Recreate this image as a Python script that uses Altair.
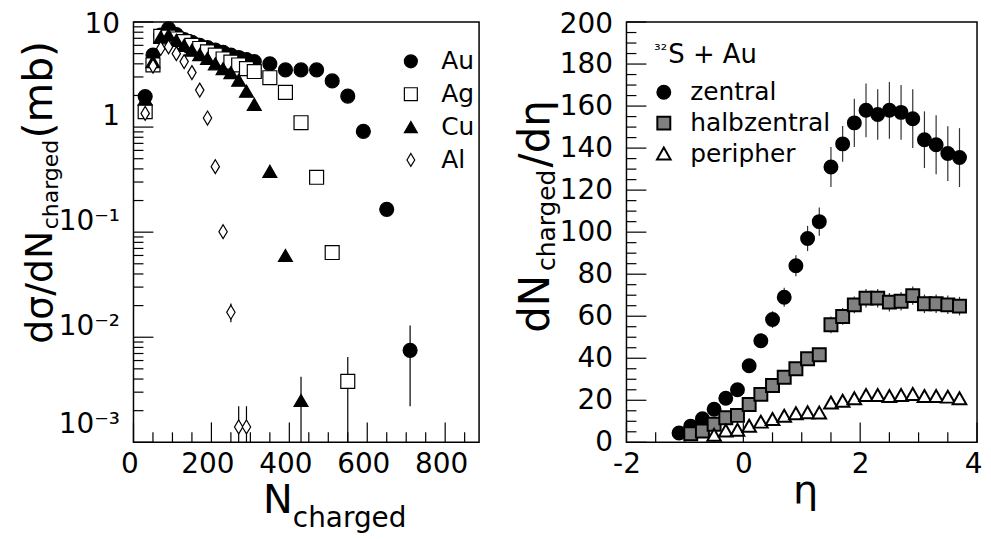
import altair as alt
import pandas as pd

FONT = "DejaVu Sans"

# ---------------- left panel: dsigma/dN_charged ----------------
au_n = [30, 50, 70, 90, 110, 130, 150, 170, 190, 210, 230, 250, 270, 290, 310,
        350, 390, 430, 470, 510, 550, 590, 650, 710]
au_v = [1.95, 4.85, 7.5, 8.6, 7.6, 6.8, 6.4, 6.0, 5.7, 5.4, 5.15, 4.85, 4.6, 4.4, 4.2,
        4.0, 3.5, 3.5, 3.5, 2.75, 1.97, 0.91, 0.165, 0.0075]
ag_n = [30, 50, 70, 90, 110, 130, 150, 170, 190, 210, 230, 250, 270, 290, 310,
        350, 390, 430, 470, 510, 550]
ag_v = [1.4, 3.9, 7.3, 7.2, 6.9, 6.5, 6.0, 5.6, 5.2, 4.85, 4.45, 4.15, 3.9, 3.6, 3.38,
        2.95, 2.14, 1.1, 0.333, 0.064, 0.0038]
cu_n = [30, 50, 70, 90, 110, 130, 150, 170, 190, 210, 230, 250, 270, 290, 310,
        350, 390, 430]
cu_v = [1.85, 4.2, 7.2, 7.5, 6.7, 6.0, 5.4, 4.9, 4.5, 4.0, 3.6, 3.3, 2.8, 2.2, 1.65,
        0.38, 0.06, 0.0025]
al_n = [30, 50, 70, 90, 110, 130, 150, 170, 190, 210, 230, 250, 270, 290]
al_v = [1.35, 3.8, 5.6, 5.8, 5.0, 4.2, 3.3, 2.25, 1.22, 0.42, 0.101, 0.0173, 0.0014, 0.0014]

# visible error bars (left)
err_n = [710, 550, 430, 250, 270, 290]
err_lo = [0.0022, 0.0005, 0.0005, 0.0139, 0.0005, 0.0005]
err_hi = [0.0129, 0.0065, 0.0042, 0.021, 0.0022, 0.0022]

targets = ["Au", "Ag", "Cu", "Al"]

# ---------------- right panel: dN/deta ----------------
eta_z = [-1.1, -0.9, -0.7, -0.5, -0.3, -0.1, 0.1, 0.3, 0.5, 0.7, 0.9, 1.1, 1.3,
         1.5, 1.7, 1.9, 2.1, 2.3, 2.5, 2.7, 2.9, 3.1, 3.3, 3.5, 3.7]
val_z = [4.4, 7.7, 11.2, 15.7, 21, 25, 36.4, 48.3, 58.4, 69, 84, 97, 105,
         131, 142, 152, 158, 156, 158, 157, 154, 144, 141.6, 137.4, 135.5]
err_z = [1, 1, 1, 1, 1.5, 2, 2.5, 3, 4, 4.5, 5, 6, 6.7,
         9.5, 8.5, 11.5, 12.8, 12, 13.5, 13, 14, 13.5, 14, 13, 14]

eta_h = [-0.9, -0.7, -0.5, -0.3, -0.1, 0.1, 0.3, 0.5, 0.7, 0.9, 1.1, 1.3,
         1.5, 1.7, 1.9, 2.1, 2.3, 2.5, 2.7, 2.9, 3.1, 3.3, 3.5, 3.7]
val_h = [4.1, 5.4, 8.6, 11.7, 12.8, 18, 22.8, 27, 31, 35, 39.8, 41.7,
         55.9, 59.9, 65.4, 68.6, 68.6, 66.7, 67.1, 69.8, 65.9, 65.9, 65.4, 64.8]
err_h = [1, 1, 1, 1, 1, 1.5, 1.5, 2, 2, 2, 2.5, 2.5,
         4, 4, 4, 4.4, 4.4, 4.4, 4.4, 4.4, 4.4, 4.4, 4.4, 4.4]

eta_p = [-0.5, -0.3, -0.1, 0.1, 0.3, 0.5, 0.7, 0.9, 1.1, 1.3,
         1.5, 1.7, 1.9, 2.1, 2.3, 2.5, 2.7, 2.9, 3.1, 3.3, 3.5, 3.7]
val_p = [3.3, 5.4, 5.7, 7.6, 9.6, 10.9, 12.4, 13.6, 14.1, 13.9,
         18.7, 19.5, 20.7, 22.3, 22.3, 21.8, 22.3, 22.8, 21.8, 21.8, 21.5, 20.7]

classes = ["zentral", "halbzentral", "peripher"]

# ---------------- ticks ----------------
lx_major = [0, 200, 400, 600, 800]
lx_minor = [50, 100, 150, 250, 300, 350, 450, 500, 550, 650, 700, 750, 850]
ly_major = [0.001, 0.01, 0.1, 1, 10]
ly_minor = [0.002, 0.003, 0.004, 0.005, 0.006, 0.007, 0.008, 0.009,
            0.02, 0.03, 0.04, 0.05, 0.06, 0.07, 0.08, 0.09,
            0.2, 0.3, 0.4, 0.5, 0.6, 0.7, 0.8, 0.9,
            2, 3, 4, 5, 6, 7, 8, 9]
rx_major = [-2, 0, 2, 4]
rx_minor = [-1.5, -1, -0.5, 0.5, 1, 1.5, 2.5, 3, 3.5]
ry_major = [0, 20, 40, 60, 80, 100, 120, 140, 160, 180, 200]
ry_minor = [5, 10, 15, 25, 30, 35, 45, 50, 55, 65, 70, 75, 85, 90, 95,
            105, 110, 115, 125, 130, 135, 145, 150, 155, 165, 170, 175, 185, 190, 195]

W1, H = 347, 422
W2 = 352
MAJ, MIN = 20, 10
DIAMOND = "M0,-1L0.6,0L0,1L-0.6,0Z"
TRIANGLE = "M0,-1L1.05,0.85L-1.05,0.85Z"


def xticks(vals, scale, axis, length, h):
    return alt.Chart(pd.DataFrame({"v": vals})).mark_rule(color="black", strokeWidth=1.2).encode(
        x=alt.X("v:Q", scale=scale, axis=axis), y=alt.value(h), y2=alt.value(h - length))


def yticks(vals, scale, axis, length):
    return alt.Chart(pd.DataFrame({"v": vals})).mark_rule(color="black", strokeWidth=1.2).encode(
        y=alt.Y("v:Q", scale=scale, axis=axis), x=alt.value(0), x2=alt.value(length))


def label(text, x, y, size, angle=0, align="left"):
    return alt.Chart(alt.Data(values=[{"a": 1}])).mark_text(
        text=text, font=FONT, fontSize=size, angle=angle, align=align,
        baseline="alphabetic", color="black").encode(x=alt.value(x), y=alt.value(y))


# ================= LEFT PANEL =================
left_df = pd.DataFrame({
    "N": au_n + ag_n + cu_n + al_n,
    "v": au_v + ag_v + cu_v + al_v,
    "t": ["Au"] * len(au_n) + ["Ag"] * len(ag_n) + ["Cu"] * len(cu_n) + ["Al"] * len(al_n),
})
lerr_df = pd.DataFrame({"N": err_n, "lo": err_lo, "hi": err_hi})

xs_l = alt.Scale(domain=[0, 887], nice=False, zero=False)
ys_l = alt.Scale(type="log", domain=[0.001, 10], nice=False)

ax_lx = alt.Axis(values=lx_major, title=None, labelFontSize=28, labelPadding=8,
                 labelOffset=-4, labelFlush=False, labelFont=FONT)
ax_ly = alt.Axis(values=ly_major, title=None, labelFontSize=28, labelPadding=14,
                 labelFont=FONT,
                 labelExpr="datum.value > 5 ? '10' : datum.value > 0.5 ? '1' : "
                           "datum.value > 0.05 ? '10⁻¹' : datum.value > 0.005 ? '10⁻²' : '10⁻³'",
                 labelOffset={"condition": [{"test": "datum.value > 5", "value": 3},
                                            {"test": "datum.value < 0.005", "value": -18}],
                              "value": -11})

leg_l = alt.Legend(orient="none", legendX=266, legendY=27, title=None,
                   labelFont=FONT, labelFontSize=25, labelColor="black",
                   symbolSize=169, symbolStrokeWidth=1.2,
                   labelOffset=18, rowPadding=7, padding=0)

pts_l = alt.Chart(left_df).mark_point(filled=True, opacity=1, size=196,
                                       strokeWidth=1.2).encode(
    x=alt.X("N:Q", scale=xs_l, axis=ax_lx),
    y=alt.Y("v:Q", scale=ys_l, axis=ax_ly),
    shape=alt.Shape("t:N", scale=alt.Scale(domain=targets,
                                           range=["circle", "square", "triangle-up", DIAMOND]),
                    legend=leg_l),
    fill=alt.Fill("t:N", scale=alt.Scale(domain=targets,
                                         range=["black", "white", "black", "white"]),
                  legend=leg_l),
    stroke=alt.Stroke("t:N", scale=alt.Scale(domain=targets,
                                             range=["black", "black", "black", "black"]),
                      legend=leg_l),
)

err_l = alt.Chart(lerr_df).mark_rule(color="black", strokeWidth=1.2, clip=True).encode(
    x=alt.X("N:Q", scale=xs_l, axis=ax_lx),
    y=alt.Y("lo:Q", scale=ys_l, axis=ax_ly),
    y2="hi:Q",
)

left = alt.layer(
    xticks(lx_major, xs_l, ax_lx, MAJ, H),
    xticks(lx_minor, xs_l, ax_lx, MIN, H),
    yticks(ly_major, ys_l, ax_ly, MAJ),
    yticks(ly_minor, ys_l, ax_ly, MIN),
    err_l,
    pts_l,
    label("N", 130, 493, 40),
    label("charged", 160, 507, 28),
    label("dσ/dN", -82, 323, 38, angle=270),
    label("charged", -76, 208, 22, angle=270),
    label("(mb)", -82, 117, 41, angle=270),
).properties(width=W1, height=H)

# ================= RIGHT PANEL =================
right_df = pd.DataFrame({
    "eta": eta_z + eta_h + eta_p,
    "v": val_z + val_h + val_p,
    "c": ["zentral"] * len(eta_z) + ["halbzentral"] * len(eta_h) + ["peripher"] * len(eta_p),
})
rerr_df = pd.DataFrame({
    "eta": eta_z + eta_h,
    "lo": [v - e for v, e in zip(val_z, err_z)] + [v - e for v, e in zip(val_h, err_h)],
    "hi": [v + e for v, e in zip(val_z, err_z)] + [v + e for v, e in zip(val_h, err_h)],
})

xs_r = alt.Scale(domain=[-2, 4], nice=False, zero=False)
ys_r = alt.Scale(domain=[0, 200], nice=False)
ax_rx = alt.Axis(values=rx_major, title=None, labelFontSize=28, labelPadding=8, labelFont=FONT,
                 labelFlush=False, labelExpr="replace(datum.label, '−', '-')",
                 labelOffset={"condition": {"test": "datum.value > 3.5", "value": -4},
                              "value": 0})
ax_ry = alt.Axis(values=ry_major, title=None, labelFontSize=28, labelPadding=14, labelFont=FONT,
                 labelOffset={"condition": {"test": "datum.value > 190", "value": 3},
                              "value": 0})

leg_r = alt.Legend(orient="none", legendX=25, legendY=58, title=None,
                   labelFont=FONT, labelFontSize=25, labelColor="black",
                   symbolSize=169, symbolStrokeWidth=2,
                   labelOffset=14, rowPadding=5, padding=0)

err_r = alt.Chart(rerr_df).mark_rule(color="#333333", strokeWidth=1.2).encode(
    x=alt.X("eta:Q", scale=xs_r, axis=ax_rx),
    y=alt.Y("lo:Q", scale=ys_r, axis=ax_ry),
    y2="hi:Q",
)
pts_r = alt.Chart(right_df).mark_point(filled=True, opacity=1, size=169,
                                        strokeWidth=2).encode(
    x=alt.X("eta:Q", scale=xs_r, axis=ax_rx),
    y=alt.Y("v:Q", scale=ys_r, axis=ax_ry),
    shape=alt.Shape("c:N", scale=alt.Scale(domain=classes,
                                           range=["circle", "square", TRIANGLE]),
                    legend=leg_r),
    fill=alt.Fill("c:N", scale=alt.Scale(domain=classes,
                                         range=["black", "#808080", "white"]),
                  legend=leg_r),
    stroke=alt.Stroke("c:N", scale=alt.Scale(domain=classes,
                                             range=["black", "black", "black"]),
                      legend=leg_r),
)

right = alt.layer(
    xticks(rx_major, xs_r, ax_rx, MAJ, H),
    xticks(rx_minor, xs_r, ax_rx, MIN, H),
    yticks(ry_major, ys_r, ax_ry, MAJ),
    yticks(ry_minor, ys_r, ax_ry, MIN),
    err_r,
    pts_r,
    label("³²", 28, 33, 16),
    label("S + Au", 42, 41, 26),
    label("η", 180, 483, 40, align="center"),
    label("dN", -78, 312, 42, angle=270),
    label("charged", -72, 250, 25, angle=270),
    label("/dη", -78, 146, 42, angle=270),
).properties(width=W2, height=H)

chart = alt.hconcat(left, right, spacing=34).resolve_scale(
    shape="independent", fill="independent", stroke="independent"
).resolve_legend(shape="independent", fill="independent", stroke="independent").properties(
    padding={"left": 10, "top": 1, "right": 0, "bottom": 0}
).configure_view(stroke="black", strokeWidth=1.5).configure_axis(
    domain=False, ticks=False, grid=False, labelColor="black"
)

chart.save("out.html", embed_options={"renderer": "svg", "actions": False})
